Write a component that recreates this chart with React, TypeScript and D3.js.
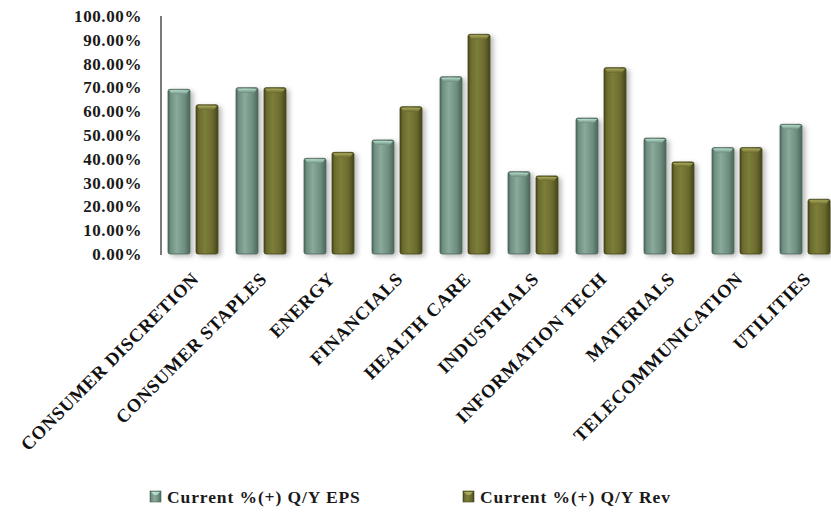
import React from "react";
import * as d3 from "d3";

const categories = [
  "CONSUMER DISCRETION",
  "CONSUMER STAPLES",
  "ENERGY",
  "FINANCIALS",
  "HEALTH CARE",
  "INDUSTRIALS",
  "INFORMATION TECH",
  "MATERIALS",
  "TELECOMMUNICATION",
  "UTILITIES",
];
const seriesNames = ["Current %(+) Q/Y EPS", "Current %(+) Q/Y Rev"];
const epsValues = [69.2, 69.9, 40.2, 47.9, 74.5, 34.6, 57.1, 48.7, 44.7, 54.5];
const revValues = [62.7, 69.9, 42.7, 61.9, 92.3, 32.8, 78.3, 38.7, 44.7, 23.0];
const yTicks = [0, 10, 20, 30, 40, 50, 60, 70, 80, 90, 100];

const W = 831;
const H = 521;
const FONT = "'Liberation Serif', 'Times New Roman', serif";

const palettes = [
  { id: "eps", dark: "#4b665a", mid: "#6e8e7f", light: "#8aab9b", top: "#b4dccb" },
  { id: "rev", dark: "#45451a", mid: "#6a6a2d", light: "#7e7e3a", top: "#a9a95c" },
];

export default function App() {
  const x0 = d3.scaleBand<string>().domain(categories).range([161, 841]).padding(0);
  const x1 = d3
    .scaleBand<string>()
    .domain(["eps", "rev"])
    .range([7, 57])
    .paddingInner(6 / 28)
    .paddingOuter(0);
  const y = d3.scaleLinear().domain([0, 100]).range([254, 16]);
  const fmt = (v: number) => d3.format(".2f")(v) + "%";

  const series = [epsValues, revValues];

  return (
    <svg
      width={W}
      height={H}
      style={{ position: "absolute", left: 0, top: 0, background: "#fff" }}
      fontFamily={FONT}
    >
      <defs>
        <filter id="shadow" x="-40%" y="-10%" width="180%" height="130%">
          <feDropShadow dx="3" dy="2" stdDeviation="2.5" floodColor="#000" floodOpacity="0.28" />
        </filter>
        <filter id="lineShadow" x="-5%" y="-200%" width="110%" height="500%">
          <feDropShadow dx="0" dy="2" stdDeviation="1.5" floodColor="#000" floodOpacity="0.25" />
        </filter>
        {palettes.map((p) => (
          <linearGradient key={p.id} id={`grad-${p.id}`} x1="0" x2="1" y1="0" y2="0">
            <stop offset="0%" stopColor={p.dark} />
            <stop offset="12%" stopColor={p.mid} />
            <stop offset="40%" stopColor={p.light} />
            <stop offset="75%" stopColor={p.mid} />
            <stop offset="100%" stopColor={p.dark} />
          </linearGradient>
        ))}
        {palettes.map((p) => (
          <linearGradient key={p.id + "t"} id={`top-${p.id}`} x1="0" x2="0" y1="0" y2="1">
            <stop offset="0%" stopColor={p.top} />
            <stop offset="100%" stopColor={p.mid} />
          </linearGradient>
        ))}
      </defs>

      {/* gridlines */}
      {yTicks
        .filter((t) => t > 0)
        .map((t) => (
          <line
            key={t}
            x1={161}
            x2={841}
            y1={y(t)}
            y2={y(t)}
            stroke="#8a8a8a"
            strokeWidth={1.5}
            filter="url(#lineShadow)"
          />
        ))}

      {/* axes */}
      <line x1={161} x2={161} y1={y(100)} y2={y(0) + 1} stroke="#7a7a7a" strokeWidth={2} />
      <line
        x1={160}
        x2={841}
        y1={y(0)}
        y2={y(0)}
        stroke="#777"
        strokeWidth={2.2}
        filter="url(#lineShadow)"
      />

      {/* bars */}
      {categories.map((c, i) => (
        <g key={c} transform={`translate(${x0(c)},0)`}>
          {series.map((vals, s) => {
            const p = palettes[s];
            const bx = x1(p.id) as number;
            const bw = x1.bandwidth();
            const top = y(vals[i]);
            const h = y(0) - top;
            return (
              <g key={p.id} filter="url(#shadow)">
                <rect
                  x={bx}
                  y={top}
                  width={bw}
                  height={h}
                  rx={2}
                  fill={`url(#grad-${p.id})`}
                  stroke={p.dark}
                  strokeWidth={0.8}
                />
                <path
                  d={`M${bx + 1},${top + 1} L${bx + bw - 1},${top + 1} L${bx + bw - 4},${top + 5} L${bx + 4},${top + 5} Z`}
                  fill={`url(#top-${p.id})`}
                />
              </g>
            );
          })}
        </g>
      ))}

      {/* y labels */}
      {yTicks.map((t) => (
        <text
          key={t}
          x={142}
          y={y(t)}
          dy="0.35em"
          textAnchor="end"
          fontSize={17}
          fontWeight="bold"
          letterSpacing={0.6}
          fill="#1a1a1a"
        >
          {fmt(t)}
        </text>
      ))}

      {/* x labels */}
      {categories.map((c) => {
        const cx = (x0(c) as number) + x0.bandwidth() / 2;
        return (
          <text
            key={c}
            transform={`translate(${cx + 5},${280}) rotate(-45)`}
            textAnchor="end"
            fontSize={18.5}
            fontWeight="bold"
            letterSpacing={0.7}
            fill="#111"
          >
            {c}
          </text>
        );
      })}

      {/* legend */}
      {seriesNames.map((name, s) => {
        const lx = s === 0 ? 150 : 463;
        const p = palettes[s];
        return (
          <g key={name}>
            <rect x={lx} y={491} width={11} height={11} fill={`url(#grad-${p.id})`} stroke={p.dark} strokeWidth={0.6} />
            <path d={`M${lx + 1},${492} L${lx + 10},${492} L${lx + 7},${495} L${lx + 4},${495} Z`} fill={p.top} />
            <text
              x={lx + 17}
              y={503}
              fontSize={17.5}
              fontWeight="bold"
              letterSpacing={0.9}
              fill="#1a1a1a"
            >
              {name}
            </text>
          </g>
        );
      })}
    </svg>
  );
}
